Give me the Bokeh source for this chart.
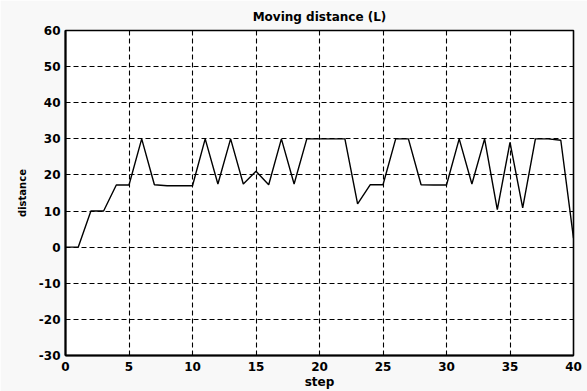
from bokeh.plotting import figure
from bokeh.models import Range1d, FixedTicker
from bokeh.embed import file_html
from bokeh.resources import INLINE

steps = list(range(0, 41))
distance = [0, 0, 10, 10, 17.2, 17.2, 30, 17.3, 17, 17, 17,
            30, 17.5, 30, 17.5, 21, 17.3, 30, 17.5, 30, 30,
            30, 30, 12, 17.3, 17.3, 30, 30, 17.3, 17.2, 17.2,
            30, 17.5, 30, 10.4, 29, 10.9, 30, 30, 29.6, 2.5]

x_ticks = [0, 5, 10, 15, 20, 25, 30, 35, 40]
y_ticks = [-30, -20, -10, 0, 10, 20, 30, 40, 50, 60]
y_tick_labels = ["-30", "-20", "-10", "0", "10", "20", "30", "40", "50", "60"]

FONT = "DejaVu Sans"

p = figure(width=587, height=391, output_backend="svg", toolbar_location=None,
           x_range=Range1d(0, 40), y_range=Range1d(-30, 60),
           title="Moving distance (L)",
           min_border_left=65, min_border_right=14, min_border_top=29, min_border_bottom=36)

p.line(steps, distance, line_color="black", line_width=1.4)

p.title.align = "center"
p.title.text_font = FONT
p.title.text_font_size = "12px"
p.title.text_font_style = "bold"
p.title.text_color = "black"
p.title.standoff = 14

for ax, ticks, label in ((p.xaxis, x_ticks, "step"), (p.yaxis, y_ticks, "distance")):
    ax.ticker = FixedTicker(ticks=ticks)
    ax.axis_label = label
    ax.axis_label_text_font = FONT
    ax.axis_label_text_font_style = "bold"
    ax.axis_label_text_color = "black"
    ax.major_label_text_font = FONT
    ax.major_label_text_font_size = "12px"
    ax.major_label_text_font_style = "bold"
    ax.major_label_text_color = "black"
    ax.axis_line_color = "black"
    ax.axis_line_width = 2
    ax.major_tick_in = 4
    ax.major_tick_out = 0
    ax.minor_tick_line_color = None
    ax.major_tick_line_color = "black"

p.yaxis.major_label_overrides = {t: s for t, s in zip(y_ticks, y_tick_labels)}

p.xaxis.axis_label_text_font_size = "12px"
p.yaxis.axis_label_text_font_size = "10px"
p.xaxis.major_label_standoff = 6
p.yaxis.major_label_standoff = 5
p.xaxis.axis_label_standoff = 1
p.yaxis.axis_label_standoff = 8

for g in (p.xgrid, p.ygrid):
    g.grid_line_color = "black"
    g.grid_line_dash = "5 3"
    g.grid_line_width = 1.1
p.xgrid.ticker = FixedTicker(ticks=x_ticks)
p.ygrid.ticker = FixedTicker(ticks=y_ticks)

p.outline_line_color = "black"
p.outline_line_width = 1.6
p.background_fill_color = "white"
p.border_fill_color = "#f8f8f8"

open("out.html", "w").write(file_html(p, INLINE))
